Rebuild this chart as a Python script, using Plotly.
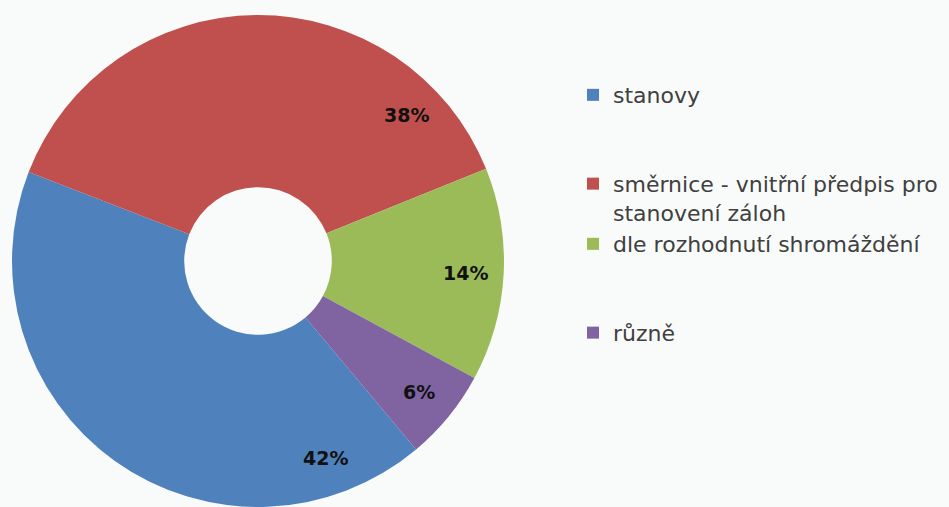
import math
import plotly.graph_objects as go

# data
categories = ["stanovy", "směrnice - vnitřní předpis pro<br>stanovení záloh",
              "dle rozhodnutí shromáždění", "různě"]
shares = [42, 38, 14, 6]
pct_labels = ["42%", "38%", "14%", "6%"]

colors = ["#4F81BD", "#C0504D", "#9BBB59", "#8064A2"]
# extra blank lines to spread the legend rows like the original
legend_pad = [2, 0, 2, 0]
# where along each slice the % label sits (fraction of the slice sweep)
label_frac = [0.14, 0.835, 0.5, 0.5]

W, H = 949, 507
mt, mb = 15, 0
rotation = 140
pie_x = [12 / W, 504 / W]
bg = "#f9fbfa"

legend_names = [c + "<br> " * n for c, n in zip(categories, legend_pad)]

fig = go.Figure(go.Pie(
    labels=legend_names,
    values=shares,
    hole=0.3,
    sort=False,
    direction="clockwise",
    rotation=rotation,
    marker=dict(colors=colors, line=dict(width=0)),
    textinfo="none",
    domain=dict(x=pie_x, y=[0, 1]),
))

# label positions follow the slice angles
ph = H - mt - mb
radius = (pie_x[1] - pie_x[0]) * W / 2
cx = (pie_x[0] + pie_x[1]) / 2
cy = 0.5
total = sum(shares)
start = rotation
for v, txt, f in zip(shares, pct_labels, label_frac):
    span = 360 * v / total
    a = math.radians(start + f * span)
    r = radius * 0.845
    fig.add_annotation(
        x=cx + r * math.sin(a) / W, y=cy + r * math.cos(a) / ph,
        xref="paper", yref="paper", xanchor="center", yanchor="middle",
        text=txt, showarrow=False,
        font=dict(family="DejaVu Sans", size=19, color="#111111", weight="bold"),
    )
    start += span

fig.update_layout(
    width=W, height=H,
    margin=dict(l=0, r=0, t=mt, b=mb),
    paper_bgcolor=bg,
    plot_bgcolor=bg,
    font=dict(family="DejaVu Sans", color="#404040"),
    legend=dict(
        x=573 / W, y=0.88, xanchor="left", yanchor="top",
        valign="top",
        font=dict(family="DejaVu Sans", size=22, color="#404040"),
        bgcolor="rgba(0,0,0,0)",
    ),
)

# drop the default page margin so the figure sits at the window corner
fig.write_html("out.html", config={"displayModeBar": False},
               post_script="document.body.style.margin='0';"
                           "document.body.style.background='%s';" % bg)
